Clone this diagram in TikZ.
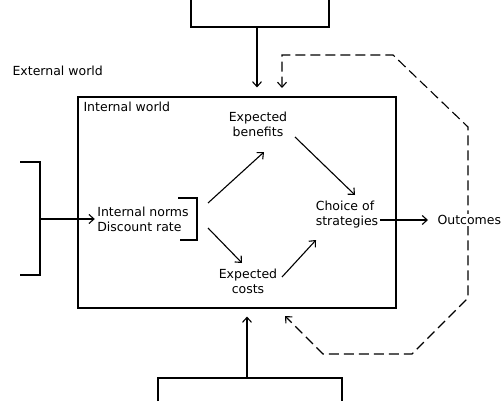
\documentclass[tikz,border=0pt]{standalone}
\usepackage{fontspec}
\setmainfont{DejaVu Sans}
\usetikzlibrary{arrows.meta}
\usetikzlibrary{backgrounds}

\begin{document}
\begin{tikzpicture}[x=1pt,y=-1pt,line width=1.1pt,
		>={Straight Barb[length=5pt,width=9pt]}]
	\useasboundingbox (0,0) rectangle (502,401);
	\begin{scope}[every node/.style={font=\fontsize{12.5}{15}\selectfont,inner sep=1pt,align=left}]
		\node[anchor=west] (ext) at (11,71) {External world};
		\node[anchor=west] (intw) at (82,107) {Internal world};
		\node (norms) at (143,219) {Internal norms\\Discount rate};
		\node[align=center] (ben) at (258,124) {Expected\\benefits};
		\node[align=center] (cost) at (248,281) {Expected\\costs};
		\node (choice) at (347,215) {Choice of\\strategies};
		\node[anchor=west,fill=white] (out) at (436,220) {Outcomes};
	\end{scope}
	\node[draw,minimum width=318pt,minimum height=211pt] (box) at (237,202.5) {};

	% outside
	\draw (191,0) -- (191,27) -- (329,27) -- (329,0);
	\draw (20,162) -- (40,162) -- (40,275) -- (20,275);
	\draw (158,401) -- (158,378) -- (342,378) -- (342,401);
	\coordinate (top) at (257,27);
	\coordinate (left) at (40,219);
	\coordinate (bot) at (247,378);

	% norms bracket
	\draw (178,198) -- (197,198) -- (197,240) -- (180,240);

	\coordinate (nb0) at (208,203);
	\coordinate (nb1) at (264,152);
	\coordinate (nc0) at (208,228);
	\coordinate (nc1) at (242,263);
	\coordinate (bc0) at (295,137);
	\coordinate (bc1) at (355,195);
	\coordinate (cc0) at (282,277);
	\coordinate (cc1) at (316,240);
	\coordinate (fbt) at (282,88);
	\coordinate (fbb) at (285,316);

	\begin{scope}[every edge/.style={draw,->}]
		\path (top) edge[shorten >=9pt] (top |- box.north);
		\path (bot) edge[shorten >=8pt] (bot |- box.south);
		\path (left) edge[shorten >=1pt] (norms.west);
		\path (nb0) edge (nb1);
		\path (nc0) edge (nc1);
		\path (bc0) edge (bc1);
		\path (cc0) edge (cc1);
		\path (choice.east |- out.west) edge[shorten >=8pt] (out.west);
	\end{scope}

	% feedback
	\begin{scope}[on background layer]
		\draw[line width=1.1pt,dash pattern=on 10pt off 5pt,<->] (fbt) -- (282,55) -- (393,55) -- (468,127)
			-- (468,298) -- (412,354) -- (323,354) -- (fbb);
	\end{scope}
\end{tikzpicture}
\end{document}
